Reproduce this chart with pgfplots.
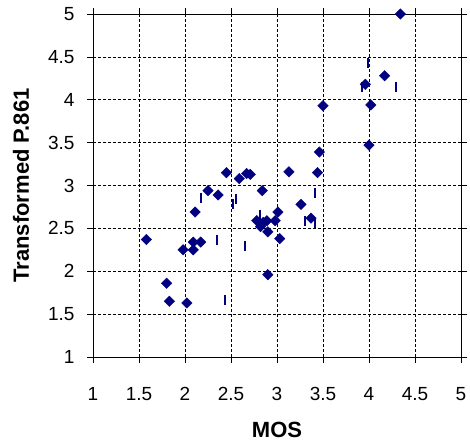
\documentclass[border=0pt]{standalone}
\usepackage{pgfplots}
\pgfplotsset{compat=1.18}
\usepackage{fontspec}
\setmainfont{Liberation Sans}
\definecolor{navy}{HTML}{000080}
\begin{document}
\begin{tikzpicture}
\begin{axis}[
  scale only axis, width=368pt, height=343pt,
  xmin=1, xmax=5, ymin=1, ymax=5,
  xtick={1,1.5,2,2.5,3,3.5,4,4.5,5},
  ytick={1,1.5,2,2.5,3,3.5,4,4.5,5},
  xticklabels={1,1.5,2,2.5,3,3.5,4,4.5,5},
  yticklabels={1,1.5,2,2.5,3,3.5,4,4.5,5},
  grid=major, major grid style={black, dash pattern=on 3pt off 2pt, line width=0.5pt},
  tick align=outside, major tick length=6pt,
  tick style={black, line width=0.6pt},
  axis line style={line width=0.8pt},
  ticklabel style={font=\fontsize{19}{19}\selectfont},
  xticklabel style={anchor=north, yshift=-21pt},
  yticklabel style={anchor=east, xshift=-9pt},
  xlabel={MOS}, ylabel={Transformed P.861},
  label style={font=\bfseries\fontsize{22}{22}\selectfont},
  xlabel style={at={(axis description cs:0.5,0)}, anchor=center, yshift=-73pt},
  ylabel style={at={(axis description cs:0,0.5)}, anchor=center, yshift=72pt},
  clip=false,
]
\addplot[only marks, mark=square*, mark size=3.7pt, color=navy, mark options={rotate=45, fill=navy, draw=navy}] coordinates {
(1.58,2.37) (1.80,1.86) (1.83,1.65) (2.02,1.63) (1.98,2.25) (2.09,2.25)
(2.09,2.34) (2.17,2.34) (2.11,2.69) (2.25,2.94) (2.36,2.89) (2.45,3.15)
(2.59,3.08) (2.67,3.14) (2.71,3.13) (3.13,3.16) (3.44,3.15) (2.84,2.94)
(3.26,2.78) (3.01,2.69) (3.37,2.62) (2.78,2.59) (2.89,2.59) (2.98,2.59)
(2.82,2.52) (2.90,2.46) (3.03,2.38) (2.90,1.96) (2.85,2.57)
(4.34,5.00) (4.17,4.28) (3.96,4.18) (4.02,3.94) (3.50,3.93) (4.00,3.47)
(3.46,3.39)
};
\addplot[only marks, mark=|, mark size=5pt, color=navy, mark options={line width=2pt}] coordinates {
(2.17,2.86) (2.52,2.79) (2.55,2.84) (2.35,2.36) (2.65,2.29) (2.43,1.67)
(3.41,2.91) (3.30,2.59) (3.41,2.56) (2.82,2.66) (3.99,4.43) (4.29,4.15)
(3.92,4.15)
};
\end{axis}
\pgfresetboundingbox
\path (current axis.south west) ++(-93pt,-90pt) rectangle ++(470pt,447pt);
\end{tikzpicture}
\end{document}
